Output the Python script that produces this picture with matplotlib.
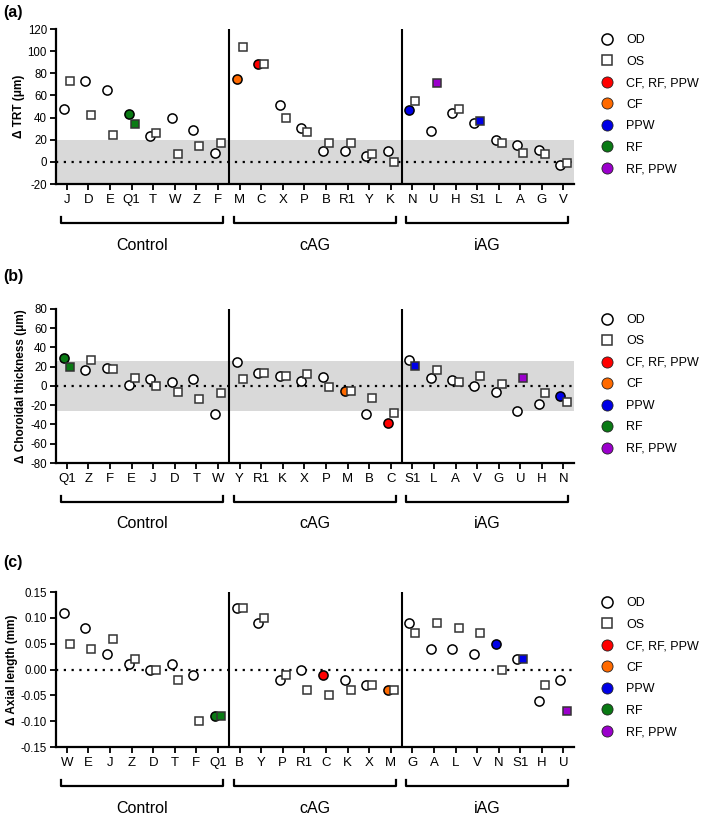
import matplotlib
matplotlib.use('Agg')
import matplotlib.pyplot as plt
import matplotlib.transforms as mtransforms
from matplotlib.lines import Line2D

plt.rcParams['font.family'] = ['Liberation Sans', 'DejaVu Sans']

# --- data ---
groups = ['Control', 'cAG', 'iAG']
group_size = 8

trt_subjects = ['J', 'D', 'E', 'Q1', 'T', 'W', 'Z', 'F',
                'M', 'C', 'X', 'P', 'B', 'R1', 'Y', 'K',
                'N', 'U', 'H', 'S1', 'L', 'A', 'G', 'V']
trt_od = [48, 73, 65, 43, 23, 40, 29, 8,
          75, 88, 51, 31, 10, 10, 5, 10,
          47, 28, 44, 35, 20, 15, 11, -3]
trt_os = [73, 42, 24, 34, 26, 7, 14, 17,
          104, 88, 40, 27, 17, 17, 7, 0,
          55, 71, 48, 37, 17, 8, 7, -1]

ct_subjects = ['Q1', 'Z', 'F', 'E', 'J', 'D', 'T', 'W',
               'Y', 'R1', 'K', 'X', 'P', 'M', 'B', 'C',
               'S1', 'L', 'A', 'V', 'G', 'U', 'H', 'N']
ct_od = [29, 17, 19, 1, 7, 4, 7, -29,
         25, 14, 10, 5, 9, -5, -29, -38,
         27, 8, 6, 0, -6, -26, -19, -10]
ct_os = [20, 27, 18, 8, 0, -6, -14, -7,
         7, 13, 10, 12, -1, -5, -13, -28,
         21, 17, 4, 10, 2, 8, -7, -17]

al_subjects = ['W', 'E', 'J', 'Z', 'D', 'T', 'F', 'Q1',
               'B', 'Y', 'P', 'R1', 'C', 'K', 'X', 'M',
               'G', 'A', 'L', 'V', 'N', 'S1', 'H', 'U']
al_od = [0.11, 0.08, 0.03, 0.01, 0.00, 0.01, -0.01, -0.09,
         0.12, 0.09, -0.02, 0.00, -0.01, -0.02, -0.03, -0.04,
         0.09, 0.04, 0.04, 0.03, 0.05, 0.02, -0.06, -0.02]
al_os = [0.05, 0.04, 0.06, 0.02, 0.00, -0.02, -0.10, -0.09,
         0.12, 0.10, -0.01, -0.04, -0.05, -0.04, -0.03, -0.04,
         0.07, 0.09, 0.08, 0.07, 0.00, 0.02, -0.03, -0.08]

# eyes with findings (subject, eye) -> finding
findings = {('Q1', 'OD'): 'RF', ('Q1', 'OS'): 'RF', ('M', 'OD'): 'CF',
            ('C', 'OD'): 'CF, RF, PPW', ('N', 'OD'): 'PPW',
            ('S1', 'OS'): 'PPW', ('U', 'OS'): 'RF, PPW'}
finding_names = ['CF, RF, PPW', 'CF', 'PPW', 'RF', 'RF, PPW']
finding_colors = ['#ff0000', '#ff6a00', '#0000e6', '#0a7a14', '#9b00cc']
color_of = dict(zip(finding_names, finding_colors))

OFF = 0.14
MS = 6.6


def draw_panel(ax, subjects, od, os_, ylim, yticks, band, ylabel, yfmt):
    n = len(subjects)
    x = list(range(n))
    ax.set_xlim(-0.5, n - 0.5)
    ax.set_ylim(*ylim)
    if band is not None:
        ax.axhspan(band[0], band[1], color='#d9d9d9', lw=0, zorder=0)
    ax.axhline(0, color='black', ls=(0, (1, 2.5)), lw=1.6, zorder=1)
    for g in range(1, len(groups)):
        ax.axvline(g * group_size - 0.5, color='black', lw=1.5, zorder=1)

    for i, s in enumerate(subjects):
        fc = color_of.get(findings.get((s, 'OD')), 'white')
        ax.plot(x[i] - OFF, od[i], 'o', ms=MS, mfc=fc, mec='black',
                mew=1.1, zorder=3, clip_on=False)
    for i, s in enumerate(subjects):
        fc = color_of.get(findings.get((s, 'OS')), 'white')
        ax.plot(x[i] + OFF, os_[i], 's', ms=MS - 0.3, mfc=fc, mec='#333333',
                mew=1.1, zorder=4, clip_on=False)

    ax.set_xticks(x)
    ax.set_xticklabels(subjects, fontsize=9.5)
    ax.set_yticks(yticks)
    ax.set_yticklabels([yfmt.format(v) for v in yticks], fontsize=8.3)
    ax.tick_params(axis='both', direction='out', length=4.5, width=1.3,
                   pad=2)
    ax.tick_params(axis='x', pad=3)
    for side in ['top', 'right']:
        ax.spines[side].set_visible(False)
    for side in ['left', 'bottom']:
        ax.spines[side].set_linewidth(1.6)
    ax.set_ylabel(ylabel, fontsize=8.5, fontweight='bold', labelpad=2)

    # group brackets under the axis
    trans = mtransforms.blended_transform_factory(ax.transData, ax.transAxes)
    for g, name in enumerate(groups):
        x0 = g * group_size - 0.27
        x1 = (g + 1) * group_size - 1 + 0.23
        ax.plot([x0, x0, x1, x1], [-0.215, -0.252, -0.252, -0.215],
                color='black', lw=1.6, transform=trans, clip_on=False)
        ax.text((x0 + x1) / 2, -0.395, name, transform=trans, ha='center',
                va='center', fontsize=11.5)

    handles = [Line2D([], [], ls='none', marker='o', ms=8, mfc='white',
                      mec='black', mew=1.1, label='OD'),
               Line2D([], [], ls='none', marker='s', ms=7.5, mfc='white',
                      mec='#333333', mew=1.1, label='OS')]
    for name in finding_names:
        handles.append(Line2D([], [], ls='none', marker='o', ms=8,
                              mfc=color_of[name], mec='#222222', mew=0.6,
                              label=name))
    ax.legend(handles=handles, loc='upper left', bbox_to_anchor=(1.03, 1.0),
              frameon=False, fontsize=9, handletextpad=0.5,
              labelspacing=0.76, borderaxespad=0)


fig = plt.figure(figsize=(7.09, 8.15), dpi=100)
left, width = 0.079, 0.731
ax_a = fig.add_axes([left, 0.7742, width, 0.1902])
ax_b = fig.add_axes([left, 0.4319, width, 0.1890])
ax_c = fig.add_axes([left, 0.0834, width, 0.1902])

draw_panel(ax_a, trt_subjects, trt_od, trt_os, (-20, 120),
           [-20, 0, 20, 40, 60, 80, 100, 120], (-20, 19.5),
           '\u0394 TRT (\u03bcm)', '{:d}')
draw_panel(ax_b, ct_subjects, ct_od, ct_os, (-80, 80),
           [-80, -60, -40, -20, 0, 20, 40, 60, 80], (-25.5, 25.5),
           '\u0394 Choroidal thickness (\u03bcm)', '{:d}')
draw_panel(ax_c, al_subjects, al_od, al_os, (-0.15, 0.15),
           [-0.15, -0.10, -0.05, 0.0, 0.05, 0.10, 0.15], None,
           '\u0394 Axial length (mm)', '{:.2f}')

# panel tags
for tag, ypix in [('(a)', 12), ('(b)', 277), ('(c)', 563)]:
    fig.text(0.005, 1 - ypix / 815, tag, fontsize=11.5, fontweight='bold',
             ha='left', va='center')

fig.savefig('out.png', dpi=100)
